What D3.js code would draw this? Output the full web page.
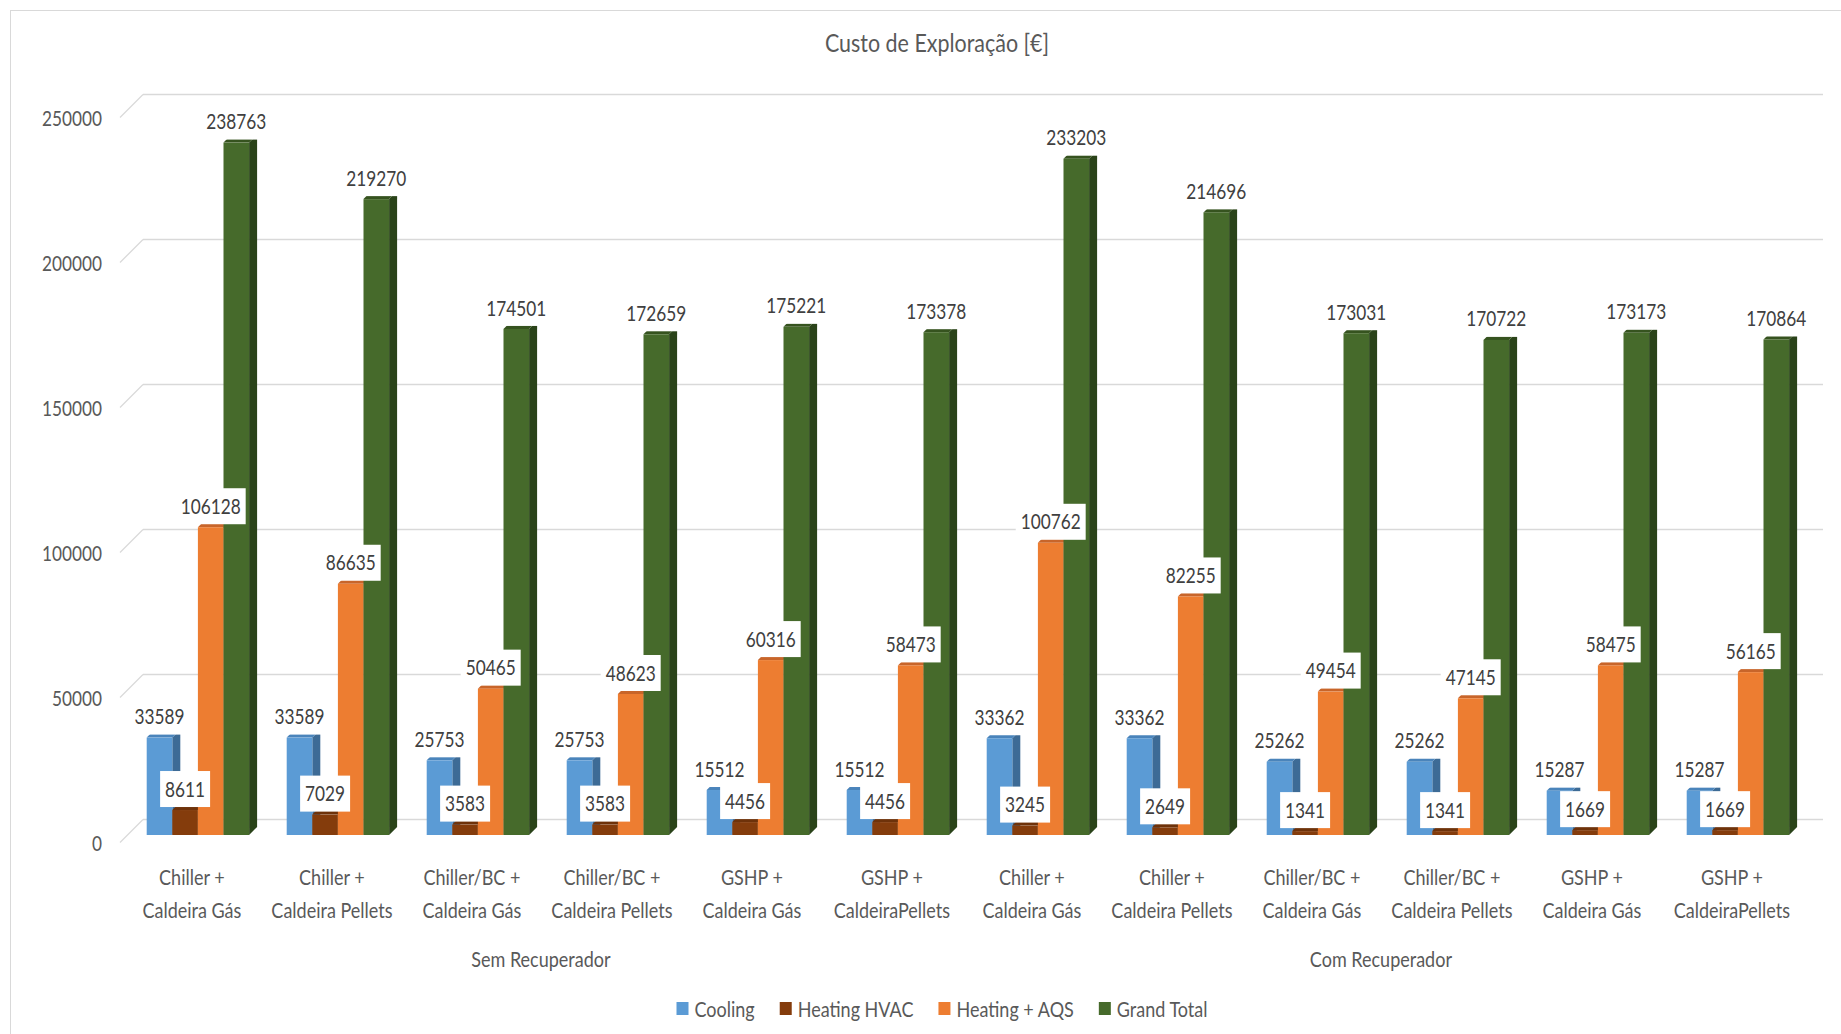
<!DOCTYPE html>
<html>
<head>
<meta charset="utf-8">
<script src="https://cdn.jsdelivr.net/npm/d3@7"></script>
<style>
  html, body { margin: 0; padding: 0; background: #fff; }
  svg { display: block; }
  text { font-family: Lato, "DejaVu Sans", sans-serif; }
</style>
</head>
<body>
<svg id="chart" width="1841" height="1034"></svg>
<script>
// ---------------- DATA ----------------
const title = "Custo de Exploração [€]";
const categories = [
  ["Chiller +", "Caldeira Gás"],
  ["Chiller +", "Caldeira Pellets"],
  ["Chiller/BC +", "Caldeira Gás"],
  ["Chiller/BC +", "Caldeira Pellets"],
  ["GSHP +", "Caldeira Gás"],
  ["GSHP +", "CaldeiraPellets"],
  ["Chiller +", "Caldeira Gás"],
  ["Chiller +", "Caldeira Pellets"],
  ["Chiller/BC +", "Caldeira Gás"],
  ["Chiller/BC +", "Caldeira Pellets"],
  ["GSHP +", "Caldeira Gás"],
  ["GSHP +", "CaldeiraPellets"]
];
const groups = [
  { name: "Sem Recuperador", from: 0, to: 5 },
  { name: "Com Recuperador", from: 6, to: 11 }
];
const seriesNames = ["Cooling", "Heating HVAC", "Heating + AQS", "Grand Total"];
const cooling     = [33589, 33589, 25753, 25753, 15512, 15512, 33362, 33362, 25262, 25262, 15287, 15287];
const heatingHVAC = [8611, 7029, 3583, 3583, 4456, 4456, 3245, 2649, 1341, 1341, 1669, 1669];
const heatingAQS  = [106128, 86635, 50465, 48623, 60316, 58473, 100762, 82255, 49454, 47145, 58475, 56165];
const grandTotal  = [238763, 219270, 174501, 172659, 175221, 173378, 233203, 214696, 173031, 170722, 173173, 170864];
const yTicks = [0, 50000, 100000, 150000, 200000, 250000];

// ---------------- STYLE ----------------
const seriesValues = [cooling, heatingHVAC, heatingAQS, grandTotal];
const colors = {
  front: ["#5B9BD5", "#843C0C", "#ED7D31", "#466A2B"],
  side:  ["#3D6B96", "#5A2908", "#B0591E", "#2A4319"],
  top:   ["#4A84BB", "#6E320A", "#C8652A", "#36531F"]
};
const FS = 21;            // general font size
const depth = 8;          // 3D bar depth
const backOff = 15.5;     // back wall offset from bar baseline
const diagX = 23, diagY = 23;

const svg = d3.select("#chart");

function measure(str, size) {
  const t = svg.append("text").attr("font-size", size).text(str);
  const w = t.node().getComputedTextLength();
  t.remove();
  return w;
}
const sxTxt = 99 / measure("Caldeira Gás", FS);
const sxNum = 40 / measure("8611", FS);

function addText(parent, x, y, str, opts = {}) {
  const sx = opts.sx || sxTxt;
  const g = parent.append("g").attr("transform", `translate(${x},${y}) scale(${sx},1)`);
  const t = g.append("text").attr("x", 0).attr("y", 0)
    .attr("text-anchor", opts.anchor || "middle")
    .attr("font-size", opts.size || FS)
    .attr("fill", opts.fill || "#595959")
    .text(str);
  if (opts.dy) t.attr("dy", opts.dy);
  return { g, t, width: t.node().getComputedTextLength() * sx };
}

// outer chart border
svg.append("rect").attr("x", 10.5).attr("y", 10.5).attr("width", 1900).attr("height", 1100)
  .attr("fill", "none").attr("stroke", "#D9D9D9").attr("stroke-width", 1);

// ---------------- SCALES ----------------
const idx = d3.range(categories.length);
const x = d3.scaleBand().domain(idx).range([127.9, 127.9 + 1680])
  .paddingInner(0.2686).paddingOuter(0.1343);
const xs = d3.scaleBand().domain(d3.range(seriesNames.length)).range([0, x.bandwidth()]);
const y = d3.scaleLinear().domain([0, 250000]).range([835, 110]);

// ---------------- GRID (back wall + floor diagonals) ----------------
const grid = svg.append("g");
const gridX0 = 143, gridX1 = 1823;
yTicks.forEach(v => {
  const yb = y(v) - backOff;
  grid.append("line").attr("x1", gridX0).attr("x2", gridX1).attr("y1", yb).attr("y2", yb)
    .attr("stroke", "#D9D9D9").attr("stroke-width", 1.3);
  grid.append("line").attr("x1", gridX0).attr("y1", yb).attr("x2", gridX0 - diagX).attr("y2", yb + diagY)
    .attr("stroke", "#D9D9D9").attr("stroke-width", 1.3);
});

// y axis labels via d3.axisLeft
const yAxis = d3.axisLeft(y).tickValues(yTicks).tickSize(0).tickPadding(0).tickFormat(d3.format("d"));
const yg = svg.append("g").attr("transform", `translate(102, ${-backOff + 24})`).call(yAxis);
yg.select(".domain").remove();
yg.selectAll("text").attr("font-size", FS).attr("fill", "#595959")
  .attr("transform", `scale(${sxNum},1)`)
  .style("font-family", 'Lato, "DejaVu Sans", sans-serif');

// ---------------- BARS ----------------
const barsG = svg.append("g");
idx.forEach(i => {
  seriesNames.forEach((s, k) => {
    const v = seriesValues[k][i];
    const bx = x(i) + xs(k);
    const bw = xs.bandwidth();
    const yt = y(v), yb = y(0);
    const g = barsG.append("g");
    g.append("polygon")
      .attr("points", [[bx + bw, yt], [bx + bw + depth, yt - depth], [bx + bw + depth, yb - depth], [bx + bw, yb]].map(p => p.join(",")).join(" "))
      .attr("fill", colors.side[k]);
    g.append("polygon")
      .attr("points", [[bx, yt], [bx + depth, yt - depth], [bx + bw + depth, yt - depth], [bx + bw, yt]].map(p => p.join(",")).join(" "))
      .attr("fill", colors.top[k]);
    g.append("rect").attr("x", bx).attr("y", yt).attr("width", bw).attr("height", yb - yt)
      .attr("fill", colors.front[k]);
  });
});

// ---------------- DATA LABELS ----------------
const labG = svg.append("g");
seriesNames.forEach((s, k) => {
  idx.forEach(i => {
    const v = seriesValues[k][i];
    const cx = x(i) + xs(k) + xs.bandwidth() / 2;
    const cy = y(v) - 21;
    const g = labG.append("g");
    const r = g.append("rect").attr("fill", "#fff");
    const lt = addText(g, cx, cy, String(v), { sx: sxNum, fill: "#404040", dy: "0.36em" });
    r.attr("x", cx - lt.width / 2 - 5).attr("y", cy - 18).attr("width", lt.width + 10).attr("height", 36);
  });
});

// ---------------- CATEGORY LABELS ----------------
const catG = svg.append("g");
idx.forEach(i => {
  const cx = x(i) + x.bandwidth() / 2 - 6;
  addText(catG, cx, 885, categories[i][0]);
  addText(catG, cx, 918, categories[i][1]);
});
groups.forEach(gp => {
  const cx = (x(gp.from) + x(gp.to) + x.bandwidth()) / 2 - 7;
  addText(catG, cx, 967, gp.name);
});

// ---------------- TITLE ----------------
addText(svg, 937, 52, title, { size: 25 });

// ---------------- LEGEND ----------------
const legG = svg.append("g");
let lx = 0;
seriesNames.forEach((s, k) => {
  const g = legG.append("g").attr("transform", `translate(${lx},0)`);
  g.append("rect").attr("x", 0).attr("y", 1002).attr("width", 12).attr("height", 13).attr("fill", colors.front[k]);
  const lt = addText(g, 18, 1009, s, { anchor: "start", dy: "0.36em" });
  lx += 18 + lt.width + 25;
});
const legW = lx - 25;
legG.attr("transform", `translate(${942 - legW / 2},0)`);
</script>
</body>
</html>
